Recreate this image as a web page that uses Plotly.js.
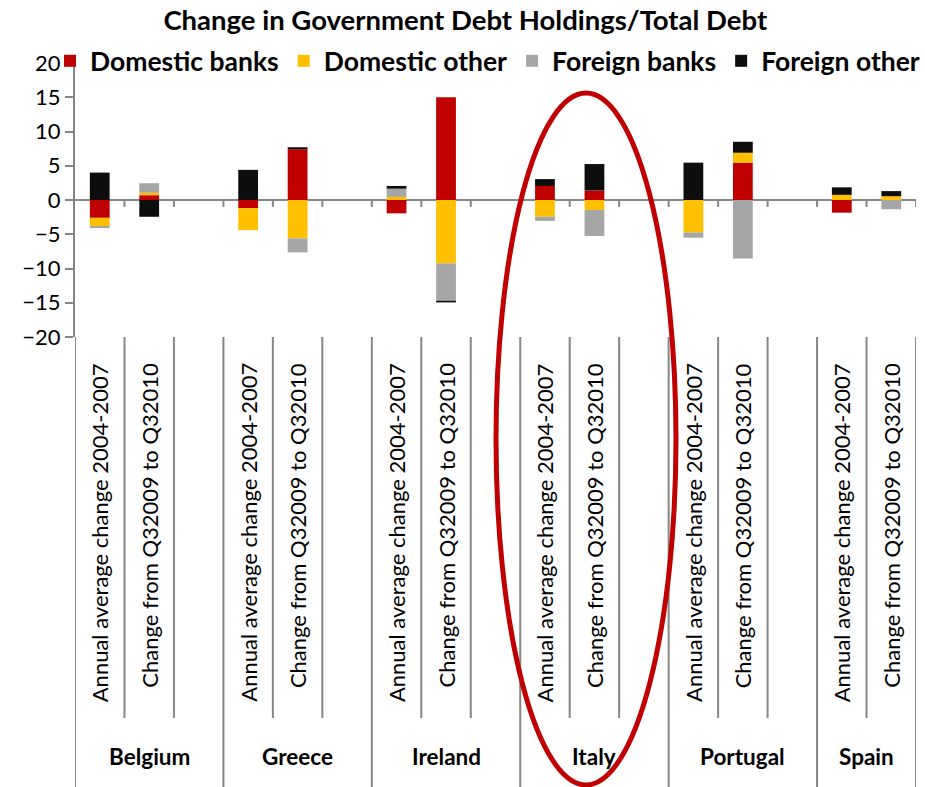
<!DOCTYPE html>
<html>
<head>
<meta charset="utf-8">
<script src="https://cdn.plot.ly/plotly-3.0.1.min.js"></script>
<style>html,body{margin:0;padding:0;background:#fff;}#chart{width:925px;height:787px;}</style>
</head>
<body>
<div id="chart"></div>
<script>
// ---- data ----
const countries = ['Belgium', 'Greece', 'Ireland', 'Italy', 'Portugal', 'Spain'];
const periods = ['Annual average change 2004-2007', 'Change from Q32009 to Q32010'];
const seriesNames = ['Domestic banks', 'Domestic other', 'Foreign banks', 'Foreign other'];
// one value per bar: country by country, period by period
const domesticBanks = [-2.6, 0.7, -1.2, 7.4, -1.95, 15.0, 2.05, 1.4, 0.0, 5.45, -1.85, 0.0];
const domesticOther = [-1.2, 0.35, -3.2, -5.6, 0.45, -9.25, -2.45, -1.45, -4.75, 1.45, 0.75, 0.55];
const foreignBanks = [-0.3, 1.4, 0.0, -2.05, 1.2, -5.45, -0.6, -3.8, -0.75, -8.55, 0.0, -1.35];
const foreignOther = [4.0, -2.45, 4.4, 0.3, 0.4, -0.25, 1.0, 3.85, 5.45, 1.6, 1.1, 0.75];
const tickVals = [-20, -15, -10, -5, 0, 5, 10, 15, 20];
const chartTitle = 'Change in Government Debt Holdings/Total Debt';

// ---- styles ----
const colors = ['#C00000', '#FFC000', '#A6A6A6', '#0D0D0D'];
const FONT = 'Lato, "Open Sans", sans-serif';
const AXIS_GREY = '#868686';

// categories: each country gets its periods plus a spacer slot (except the last)
const slots = [];
const countrySlots = [];
countries.forEach((c, i) => {
  const first = slots.length;
  periods.forEach(p => slots.push(c + '|' + p));
  if (i < countries.length - 1) slots.push(c + '|spacer');
  countrySlots.push([first, slots.length - 1]);
});
const barX = [];
countries.forEach(c => periods.forEach(p => barX.push(c + '|' + p)));

const values = [domesticBanks, domesticOther, foreignBanks, foreignOther];
const traces = values.map((v, k) => ({
  type: 'bar',
  name: seriesNames[k],
  x: barX,
  y: v,
  marker: {color: colors[k], line: {width: 0}},
  hoverinfo: 'name+y'
}));

// plot geometry helpers (paper units below the plot)
const plotH = 787 - 63 - 450;
const pxBelow = px => -px / plotH;

const shapes = [];
const annotations = [];
// small ticks under the zero line at slot boundaries
for (let i = 0; i < slots.length; i++) {
  shapes.push({type: 'line', xref: 'x', yref: 'y', x0: i + 0.5, x1: i + 0.5, y0: 0, y1: -1,
    line: {color: AXIS_GREY, width: 2}});
}
// separators in the label area
const countryBounds = new Set([-0.5]);
countrySlots.forEach(([a, b]) => countryBounds.add(b + 0.5));
for (let i = -1; i < slots.length; i++) {
  const xb = i + 0.5;
  const isCountry = countryBounds.has(xb);
  shapes.push({type: 'line', xref: 'x', yref: 'paper', x0: xb, x1: xb,
    y0: 0, y1: isCountry ? pxBelow(452) : pxBelow(381),
    line: {color: AXIS_GREY, width: 2}});
}
// period labels
barX.forEach(key => {
  annotations.push({xref: 'x', yref: 'paper', x: key, y: pxBelow(24), yanchor: 'top', xanchor: 'center',
    text: key.split('|')[1], textangle: -90, showarrow: false,
    font: {family: FONT, size: 22, color: '#000'}});
});
// country labels
countries.forEach((c, i) => {
  const [a, b] = countrySlots[i];
  annotations.push({xref: 'x', yref: 'paper', x: (a + b) / 2, y: pxBelow(420), yanchor: 'middle', xanchor: 'center',
    text: c, showarrow: false, font: {family: FONT, size: 22.5, color: '#000', weight: 700}});
});
// highlight ellipse around Italy
shapes.push({type: 'circle', xref: 'paper', yref: 'paper',
  x0: (496 - 75) / 841, x1: (676 - 75) / 841, y0: pxBelow(448), y1: (337 - 93) / plotH,
  line: {color: '#C00000', width: 5}});

const layout = {
  width: 925, height: 787,
  margin: {l: 75, r: 9, t: 63, b: 450},
  paper_bgcolor: '#fff', plot_bgcolor: 'rgba(0,0,0,0)',
  barmode: 'relative', bargap: 0.6,
  title: {text: chartTitle, x: 0.503, xanchor: 'center', y: 0.974, yanchor: 'middle',
    font: {family: FONT, size: 27.5, color: '#000', weight: 700}},
  showlegend: true,
  legend: {orientation: 'h', x: -0.015, xanchor: 'left', y: 1.007, yanchor: 'middle',
    font: {family: FONT, size: 26.5, color: '#000', weight: 700}, bgcolor: 'rgba(0,0,0,0)',
    traceorder: 'normal'},
  xaxis: {type: 'category', categoryorder: 'array', categoryarray: slots,
    range: [-0.5, slots.length - 0.5], showticklabels: false, ticks: '', showline: false,
    showgrid: false, zeroline: false, fixedrange: true},
  yaxis: {range: [-20, 20], tickvals: tickVals, ticks: 'outside', ticklen: 8, tickwidth: 2,
    tickcolor: AXIS_GREY, showline: true, linecolor: AXIS_GREY, linewidth: 2, showgrid: false,
    zeroline: true, zerolinecolor: AXIS_GREY, zerolinewidth: 2,
    tickfont: {family: FONT, size: 22, color: '#000'}, fixedrange: true},
  shapes: shapes,
  annotations: annotations,
  font: {family: FONT}
};

Plotly.newPlot('chart', traces, layout, {displayModeBar: false, staticPlot: true});
</script>
</body>
</html>
